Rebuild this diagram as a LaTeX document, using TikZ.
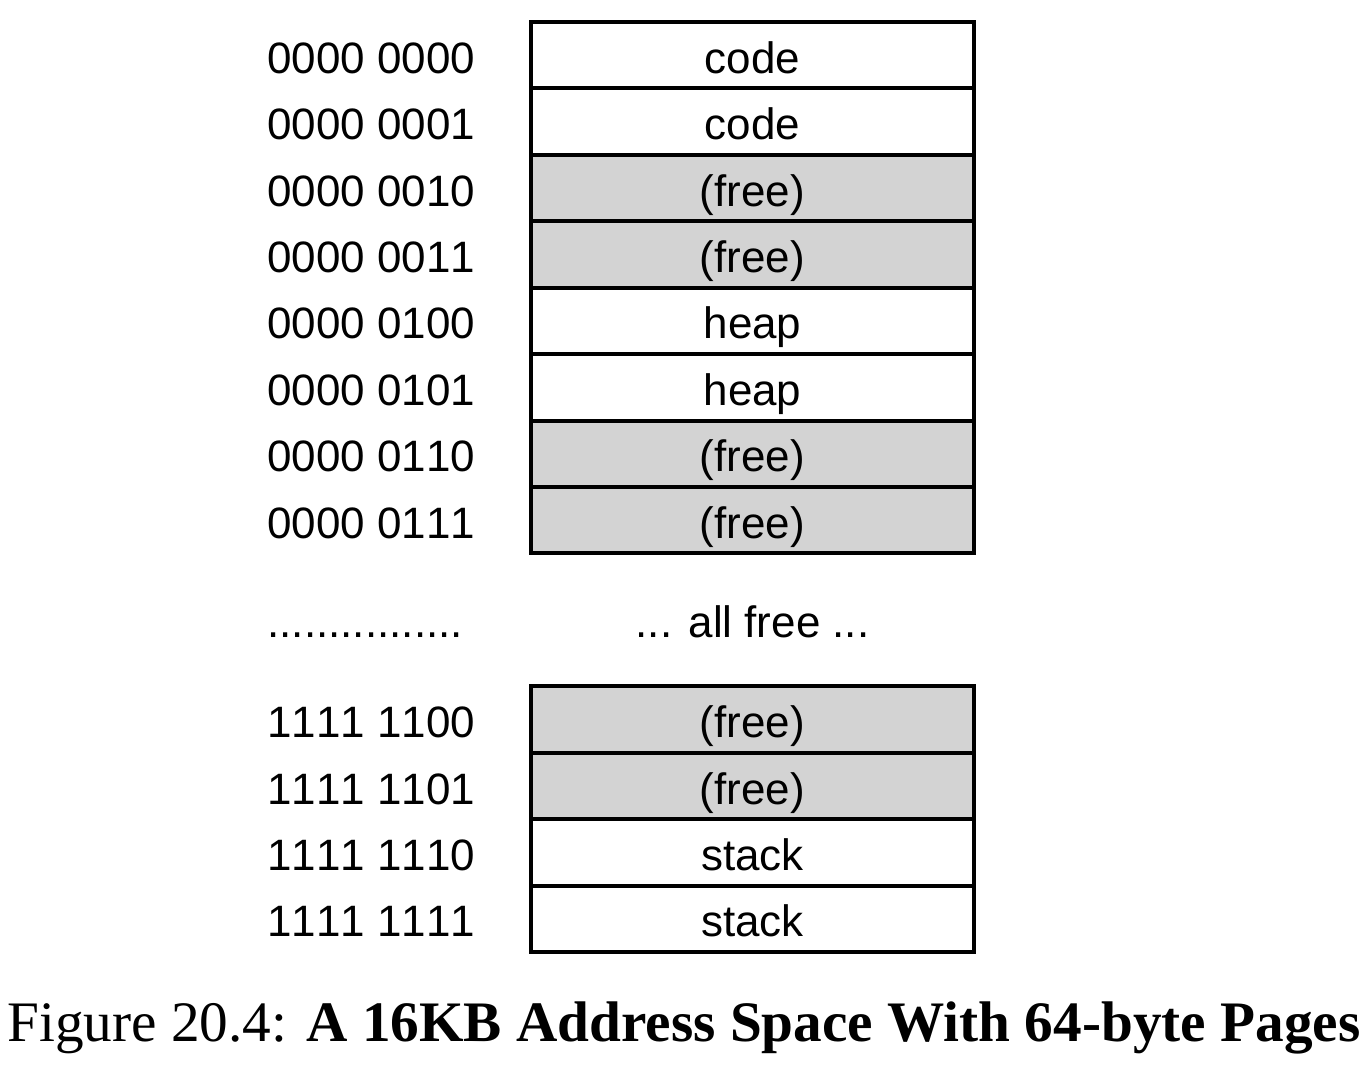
\documentclass[tikz,border=0pt]{standalone}
\usepackage{fontspec}
\setsansfont{Liberation Sans}[Kerning=Off]
\newfontfamily\capfont{Liberation Serif}
\usetikzlibrary{positioning}
\usepackage{xcolor}
\definecolor{freegray}{RGB}{211,211,211}

\tikzset{
  page/.style={draw, line width=1.15pt, minimum width=4.43cm, minimum height=0.664cm,
    inner sep=0pt, outer sep=0pt, text height=0.44cm, text depth=0.08cm,
    font=\sffamily\fontsize{12.5}{14}\selectfont},
  freepage/.style={page, fill=freegray},
  addr/.style={anchor=base west, inner sep=0pt, font=\sffamily\fontsize{12.5}{14}\selectfont},
}

\begin{document}
\begin{tikzpicture}[x=0.01cm,y=-0.01cm]
        \useasboundingbox (0,0) rectangle (1372,1068);
        % pages at the bottom of the address space
        \node [page] (p0) at (752.5,55.2) {code};
        \node [page, below=0pt of p0] (p1) {code};
        \node [freepage, below=0pt of p1] (p2) {(free)};
        \node [freepage, below=0pt of p2] (p3) {(free)};
        \node [page, below=0pt of p3] (p4) {heap};
        \node [page, below=0pt of p4] (p5) {heap};
        \node [freepage, below=0pt of p5] (p6) {(free)};
        \node [freepage, below=0pt of p6] (p7) {(free)};
        % pages at the top of the address space
        \node [freepage, below=1.328cm of p7] (p60) {(free)};
        \node [freepage, below=0pt of p60] (p61) {(free)};
        \node [page, below=0pt of p61] (p62) {stack};
        \node [page, below=0pt of p62] (p63) {stack};
        % the gap in between
        \node [page, draw=none, below=0pt of p7, minimum height=1.328cm] (gap) {... all free ...};
        % page numbers
        \node [addr] (a0) at ([xshift=-2.64cm]p0.base west) {0000 0000};
        \node [addr] (a1) at ([xshift=-2.64cm]p1.base west) {0000 0001};
        \node [addr] (a2) at ([xshift=-2.64cm]p2.base west) {0000 0010};
        \node [addr] (a3) at ([xshift=-2.64cm]p3.base west) {0000 0011};
        \node [addr] (a4) at ([xshift=-2.64cm]p4.base west) {0000 0100};
        \node [addr] (a5) at ([xshift=-2.64cm]p5.base west) {0000 0101};
        \node [addr] (a6) at ([xshift=-2.64cm]p6.base west) {0000 0110};
        \node [addr] (a7) at ([xshift=-2.64cm]p7.base west) {0000 0111};
        \node [addr] (agap) at ([xshift=-2.64cm]gap.base -| p7.west) {................};
        \node [addr] (a60) at ([xshift=-2.64cm]p60.base west) {1111 1100};
        \node [addr] (a61) at ([xshift=-2.64cm]p61.base west) {1111 1101};
        \node [addr] (a62) at ([xshift=-2.64cm]p62.base west) {1111 1110};
        \node [addr] (a63) at ([xshift=-2.64cm]p63.base west) {1111 1111};
        % caption
        \node [anchor=base, inner sep=0pt] (cap) at (684,1042)
          {\resizebox{13.52cm}{!}{\capfont Figure 20.4: \textbf{A 16KB Address Space With 64-byte Pages}}};
    \end{tikzpicture}
\end{document}
